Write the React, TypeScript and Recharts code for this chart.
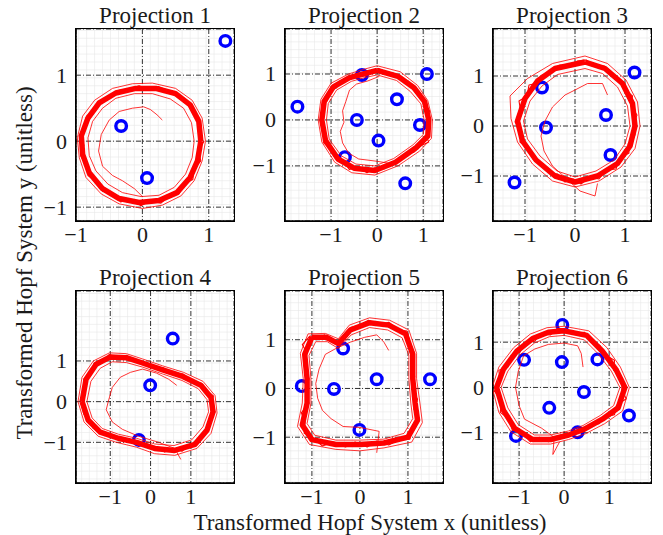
import React from 'react';
import { ComposedChart, Scatter, XAxis, YAxis, CartesianGrid } from 'recharts';

type Pt = { x: number; y: number };
const pts = (a: number[][]): Pt[] => a.map(([x, y]) => ({ x, y }));

const TITLES = ['Projection 1', 'Projection 2', 'Projection 3', 'Projection 4', 'Projection 5', 'Projection 6'];
const MAJOR_TICKS = [-1, 0, 1];
const X_LABEL = 'Transformed Hopf System x (unitless)';
const Y_LABEL = 'Transformed Hopf System y (unitless)';

// axis ranges per projection
const X_DOMAINS = [[-1.0, 1.38], [-2.0, 1.43], [-1.64, 1.52], [-1.85, 2.07], [-1.56, 1.73], [-1.58, 1.93]];
const Y_DOMAINS = [[-1.21, 1.7], [-2.2, 1.98], [-1.9, 1.94], [-2.0, 2.72], [-1.94, 2.0], [-2.11, 2.13]];
const FINE_STEPS = [0.12, 0.17, 0.16, 0.19, 0.16, 0.17];

// ---------- Projection 1 ----------
const P1_CIRCLES = [[1.25, 1.52], [-0.32, 0.23], [0.07, -0.56]];
const P1_LOOP = [[0.88, 0.0], [0.85, 0.3], [0.72, 0.55], [0.5, 0.72], [0.2, 0.8], [-0.1, 0.8], [-0.4, 0.73], [-0.65, 0.58], [-0.82, 0.35], [-0.92, 0.08], [-0.9, -0.2], [-0.8, -0.48], [-0.6, -0.72], [-0.35, -0.87], [-0.05, -0.93], [0.25, -0.9], [0.52, -0.78], [0.72, -0.55], [0.83, -0.3], [0.88, 0.0]];
const P1_OUTER = [[0.95, 0.0], [0.9, 0.35], [0.75, 0.62], [0.5, 0.8], [0.15, 0.88], [-0.15, 0.87], [-0.45, 0.8], [-0.72, 0.62], [-0.9, 0.38], [-0.98, 0.05], [-0.95, -0.25], [-0.85, -0.55], [-0.62, -0.8], [-0.35, -0.95], [0.0, -1.02], [0.3, -0.97], [0.58, -0.83], [0.78, -0.6], [0.9, -0.3], [0.95, 0.0]];
const P1_INNER = [[0.78, 0.0], [0.74, 0.28], [0.62, 0.5], [0.42, 0.64], [0.15, 0.72], [-0.12, 0.72], [-0.4, 0.65], [-0.6, 0.5], [-0.75, 0.3], [-0.82, 0.05], [-0.8, -0.22], [-0.7, -0.45], [-0.52, -0.65], [-0.3, -0.78], [-0.02, -0.84], [0.25, -0.82], [0.48, -0.7], [0.65, -0.5], [0.75, -0.25], [0.78, 0.0]];
const P1_NOISY = [[0.9, 0.05], [0.86, 0.2], [0.84, 0.35], [0.74, 0.5], [0.66, 0.6], [0.52, 0.7], [0.4, 0.76], [0.24, 0.83], [0.1, 0.78], [-0.05, 0.84], [-0.2, 0.79], [-0.35, 0.77], [-0.5, 0.66], [-0.62, 0.62], [-0.72, 0.48], [-0.84, 0.38], [-0.86, 0.22], [-0.95, 0.08], [-0.88, -0.06], [-0.93, -0.22], [-0.84, -0.38], [-0.82, -0.52], [-0.68, -0.62], [-0.6, -0.76], [-0.45, -0.8], [-0.33, -0.92], [-0.18, -0.88], [-0.02, -0.98], [0.12, -0.9], [0.28, -0.94], [0.42, -0.82], [0.55, -0.8], [0.64, -0.64], [0.76, -0.58], [0.78, -0.42], [0.88, -0.3], [0.84, -0.14], [0.93, 0.0]];
const P1_TRANS = [[0.3, 0.32], [0.22, 0.4], [0.12, 0.48], [0.02, 0.52], [-0.15, 0.5], [-0.35, 0.45], [-0.5, 0.32], [-0.62, 0.1], [-0.66, -0.15], [-0.6, -0.38], [-0.45, -0.52], [-0.3, -0.6], [-0.12, -0.72], [0.0, -0.84]];

// ---------- Projection 2 ----------
const P2_CIRCLES = [[-1.73, 0.29], [-0.33, 0.98], [1.08, 1.0], [0.43, 0.45], [-0.44, 0.0], [0.93, -0.11], [0.03, -0.45], [-0.7, -0.81], [0.61, -1.38]];
const P2_LOOP = [[0.0, 1.08], [0.45, 0.95], [0.8, 0.7], [1.03, 0.4], [1.12, 0.0], [1.1, -0.35], [0.85, -0.6], [0.4, -0.92], [-0.05, -1.1], [-0.5, -1.05], [-0.85, -0.85], [-1.12, -0.45], [-1.2, 0.0], [-1.15, 0.4], [-0.95, 0.72], [-0.6, 0.92], [-0.3, 1.0], [0.0, 1.08]];
const P2_OUTER = [[0.0, 1.18], [0.5, 1.05], [0.88, 0.75], [1.1, 0.42], [1.2, 0.0], [1.18, -0.4], [0.92, -0.68], [0.45, -1.0], [-0.05, -1.2], [-0.55, -1.15], [-0.92, -0.92], [-1.2, -0.48], [-1.28, 0.0], [-1.22, 0.45], [-1.0, 0.8], [-0.62, 1.0], [-0.3, 1.1], [0.0, 1.18]];
const P2_INNER = [[0.0, 0.98], [0.42, 0.86], [0.72, 0.62], [0.95, 0.35], [1.02, 0.0], [1.0, -0.32], [0.78, -0.54], [0.36, -0.84], [-0.05, -1.0], [-0.46, -0.96], [-0.78, -0.78], [-1.04, -0.42], [-1.1, 0.0], [-1.06, 0.36], [-0.88, 0.65], [-0.56, 0.84], [-0.28, 0.92], [0.0, 0.98]];
const P2_NOISY = [[0.02, 1.12], [0.2, 1.05], [0.35, 1.02], [0.52, 0.9], [0.68, 0.84], [0.8, 0.66], [0.96, 0.56], [1.02, 0.36], [1.14, 0.2], [1.08, 0.02], [1.16, -0.18], [1.06, -0.34], [1.12, -0.48], [0.92, -0.58], [0.8, -0.7], [0.62, -0.74], [0.48, -0.9], [0.3, -0.96], [0.16, -1.06], [-0.05, -1.04], [-0.22, -1.15], [-0.42, -1.02], [-0.6, -1.08], [-0.76, -0.86], [-0.92, -0.82], [-1.02, -0.62], [-1.16, -0.5], [-1.12, -0.28], [-1.22, -0.1], [-1.16, 0.1], [-1.2, 0.3], [-1.08, 0.42], [-1.04, 0.62], [-0.88, 0.7], [-0.8, 0.86], [-0.58, 0.88], [-0.45, 1.0], [-0.25, 0.96], [-0.12, 1.08], [0.02, 1.12]];
const P2_TRANS = [[0.05, 0.95], [-0.2, 0.85], [-0.45, 0.78], [-0.6, 0.65], [-0.68, 0.4], [-0.75, 0.2], [-0.72, -0.05], [-0.8, -0.25], [-0.75, -0.5], [-0.62, -0.72], [-0.4, -0.85], [0.0, -0.9], [0.3, -0.95]];

// ---------- Projection 3 ----------
const P3_CIRCLES = [[1.19, 1.07], [-0.66, 0.77], [-0.58, -0.03], [0.62, 0.22], [0.71, -0.58], [-1.21, -1.13]];
const P3_LOOP = [[0.2, 1.28], [0.6, 1.15], [0.95, 0.85], [1.15, 0.45], [1.2, 0.0], [1.1, -0.4], [0.85, -0.75], [0.45, -1.0], [0.0, -1.12], [-0.4, -1.0], [-0.78, -0.68], [-1.05, -0.3], [-1.15, 0.1], [-1.0, 0.55], [-0.75, 0.9], [-0.4, 1.15], [0.2, 1.28]];
const P3_OUTER = [[0.2, 1.4], [0.65, 1.25], [1.02, 0.92], [1.25, 0.48], [1.3, 0.0], [1.2, -0.45], [0.92, -0.82], [0.48, -1.1], [0.0, -1.22], [-0.45, -1.1], [-0.85, -0.76], [-1.15, -0.32], [-1.28, 0.15], [-1.3, 0.6], [-0.95, 0.95], [-0.45, 1.25], [0.2, 1.4]];
const P3_INNER = [[0.2, 1.15], [0.55, 1.05], [0.85, 0.78], [1.05, 0.4], [1.1, 0.0], [1.0, -0.36], [0.78, -0.68], [0.42, -0.9], [0.0, -1.02], [-0.36, -0.9], [-0.7, -0.6], [-0.95, -0.26], [-1.03, 0.1], [-0.9, 0.5], [-0.66, 0.8], [-0.35, 1.03], [0.2, 1.15]];
const P3_NOISY = [[0.22, 1.32], [0.4, 1.2], [0.58, 1.2], [0.75, 1.02], [0.92, 0.92], [1.0, 0.72], [1.15, 0.6], [1.12, 0.4], [1.24, 0.22], [1.16, 0.02], [1.2, -0.18], [1.06, -0.36], [1.08, -0.54], [0.88, -0.66], [0.82, -0.86], [0.62, -0.88], [0.48, -1.06], [0.3, -1.02], [0.12, -1.16], [-0.04, -1.06], [-0.2, -1.12], [-0.35, -0.96], [-0.52, -0.94], [-0.66, -0.76], [-0.84, -0.66], [-0.92, -0.46], [-1.1, -0.32], [-1.06, -0.12], [-1.2, 0.08], [-1.08, 0.26], [-1.12, 0.5], [-0.96, 0.6], [-0.92, 0.82], [-0.74, 0.86], [-0.66, 1.02], [-0.46, 1.08], [-0.3, 1.22], [-0.1, 1.2], [0.05, 1.3], [0.22, 1.32]];
const P3_TRANS = [[0.65, 0.62], [0.55, 0.85], [0.25, 0.85], [0.0, 0.72], [-0.2, 0.62], [-0.45, 0.38], [-0.6, 0.1], [-0.68, -0.2], [-0.62, -0.5], [-0.45, -0.8], [0.1, -1.3], [0.4, -1.4], [0.45, -1.15]];

// ---------- Projection 4 ----------
const P4_CIRCLES = [[0.55, 1.55], [-0.01, 0.4], [-0.29, -0.94]];
const P4_LOOP = [[-1.7, 0.0], [-1.6, 0.55], [-1.35, 0.92], [-1.0, 1.1], [-0.6, 1.08], [-0.2, 0.95], [0.3, 0.78], [0.8, 0.62], [1.25, 0.4], [1.5, 0.1], [1.55, -0.25], [1.4, -0.7], [1.1, -1.05], [0.6, -1.2], [0.1, -1.15], [-0.35, -1.0], [-0.8, -0.9], [-1.25, -0.75], [-1.55, -0.45], [-1.7, 0.0]];
const P4_OUTER = [[-1.8, 0.0], [-1.7, 0.6], [-1.42, 1.0], [-1.02, 1.2], [-0.6, 1.18], [-0.2, 1.05], [0.3, 0.88], [0.82, 0.72], [1.3, 0.5], [1.6, 0.15], [1.65, -0.28], [1.5, -0.78], [1.15, -1.15], [0.6, -1.32], [0.1, -1.28], [-0.35, -1.12], [-0.85, -1.0], [-1.3, -0.85], [-1.65, -0.5], [-1.8, 0.0]];
const P4_INNER = [[-1.58, 0.0], [-1.48, 0.5], [-1.25, 0.82], [-0.95, 0.98], [-0.6, 0.96], [-0.2, 0.85], [0.3, 0.68], [0.78, 0.52], [1.18, 0.32], [1.4, 0.05], [1.44, -0.25], [1.3, -0.62], [1.02, -0.94], [0.58, -1.08], [0.1, -1.04], [-0.35, -0.9], [-0.8, -0.8], [-1.2, -0.66], [-1.45, -0.4], [-1.58, 0.0]];
const P4_NOISY = [[-1.74, 0.05], [-1.62, 0.3], [-1.66, 0.55], [-1.46, 0.72], [-1.4, 0.95], [-1.18, 1.0], [-1.02, 1.16], [-0.8, 1.06], [-0.6, 1.14], [-0.4, 0.98], [-0.2, 1.0], [0.05, 0.84], [0.3, 0.84], [0.55, 0.68], [0.8, 0.68], [1.0, 0.52], [1.25, 0.46], [1.38, 0.28], [1.56, 0.14], [1.5, -0.05], [1.6, -0.25], [1.46, -0.42], [1.46, -0.68], [1.28, -0.8], [1.16, -1.02], [0.95, -1.08], [0.78, -1.22], [0.55, -1.14], [0.35, -1.24], [0.12, -1.1], [-0.1, -1.12], [-0.35, -0.96], [-0.55, -1.0], [-0.8, -0.86], [-1.0, -0.88], [-1.25, -0.7], [-1.42, -0.66], [-1.56, -0.42], [-1.66, -0.3], [-1.74, 0.05]];
const P4_TRANS = [[0.65, 0.4], [0.45, 0.55], [0.15, 0.7], [-0.2, 0.8], [-0.5, 0.72], [-0.75, 0.6], [-0.95, 0.35], [-1.05, 0.0], [-1.1, -0.2], [-0.95, -0.5], [-0.7, -0.68], [-0.3, -0.85], [0.2, -1.0], [0.6, -1.15], [0.75, -1.42]];

// ---------- Projection 5 ----------
const P5_CIRCLES = [[-1.21, 0.05], [-0.54, -0.01], [-0.35, 0.82], [0.35, 0.19], [1.46, 0.19], [-0.01, -0.85]];
const P5_LOOP = [[-1.0, 1.05], [-0.7, 1.05], [-0.45, 0.92], [-0.2, 1.2], [0.2, 1.35], [0.6, 1.3], [0.95, 1.12], [1.1, 0.7], [1.1, 0.2], [1.15, -0.3], [1.2, -0.65], [1.0, -1.0], [0.5, -1.12], [0.0, -1.15], [-0.5, -1.15], [-1.0, -1.05], [-1.2, -0.75], [-1.1, -0.3], [-1.1, 0.2], [-1.15, 0.7], [-1.0, 1.05]];
const P5_OUTER = [[-1.08, 1.12], [-0.72, 1.13], [-0.45, 1.02], [-0.22, 1.3], [0.2, 1.45], [0.62, 1.4], [1.02, 1.2], [1.18, 0.72], [1.18, 0.2], [1.25, -0.3], [1.3, -0.7], [1.08, -1.1], [0.5, -1.22], [0.0, -1.28], [-0.5, -1.25], [-1.05, -1.15], [-1.3, -0.78], [-1.2, -0.3], [-1.18, 0.2], [-1.24, 0.72], [-1.08, 1.12]];
const P5_INNER = [[-0.92, 0.96], [-0.68, 0.96], [-0.45, 0.82], [-0.18, 1.1], [0.2, 1.25], [0.58, 1.2], [0.88, 1.04], [1.02, 0.68], [1.02, 0.2], [1.06, -0.3], [1.1, -0.62], [0.92, -0.92], [0.5, -1.04], [0.0, -1.06], [-0.5, -1.06], [-0.94, -0.96], [-1.1, -0.72], [-1.02, -0.3], [-1.02, 0.2], [-1.06, 0.68], [-0.92, 0.96]];
const P5_NOISY = [[-1.04, 1.08], [-0.9, 1.0], [-0.74, 1.1], [-0.58, 0.98], [-0.45, 0.96], [-0.32, 1.1], [-0.2, 1.25], [0.0, 1.3], [0.18, 1.4], [0.4, 1.3], [0.6, 1.36], [0.8, 1.2], [0.98, 1.18], [1.04, 0.95], [1.14, 0.72], [1.06, 0.5], [1.14, 0.25], [1.08, 0.0], [1.2, -0.22], [1.12, -0.42], [1.24, -0.62], [1.1, -0.8], [1.04, -1.04], [0.8, -1.06], [0.6, -1.16], [0.35, -1.08], [0.15, -1.2], [-0.1, -1.1], [-0.3, -1.2], [-0.55, -1.1], [-0.78, -1.18], [-1.0, -1.0], [-1.16, -0.92], [-1.14, -0.68], [-1.22, -0.5], [-1.06, -0.3], [-1.14, -0.05], [-1.06, 0.2], [-1.16, 0.45], [-1.1, 0.72], [-1.2, 0.9], [-1.04, 1.08]];
const P5_TRANS = [[0.6, 0.78], [0.5, 0.95], [0.35, 1.1], [0.1, 1.05], [-0.2, 0.95], [-0.5, 0.82], [-0.72, 0.7], [-0.85, 0.4], [-0.92, 0.1], [-0.88, -0.2], [-0.78, -0.45], [-0.6, -0.62], [-0.35, -0.78], [0.0, -0.8], [0.4, -0.88], [0.35, -1.32]];

// ---------- Projection 6 ----------
const P6_CIRCLES = [[-0.04, 1.38], [-0.89, 0.61], [-0.05, 0.56], [0.74, 0.62], [0.44, -0.1], [-0.33, -0.45], [1.44, -0.62], [-1.07, -1.07], [0.3, -0.99]];
const P6_LOOP = [[0.0, 1.25], [0.5, 1.15], [0.85, 0.8], [1.15, 0.4], [1.35, 0.0], [1.2, -0.45], [0.85, -0.7], [0.45, -0.92], [0.1, -1.05], [-0.3, -1.15], [-0.7, -1.15], [-1.1, -0.9], [-1.35, -0.5], [-1.5, 0.0], [-1.35, 0.4], [-1.05, 0.8], [-0.7, 1.08], [-0.35, 1.22], [0.0, 1.25]];
const P6_OUTER = [[0.0, 1.35], [0.55, 1.25], [0.95, 0.88], [1.25, 0.45], [1.45, 0.0], [1.3, -0.52], [0.9, -0.8], [0.48, -1.02], [0.1, -1.15], [-0.3, -1.25], [-0.75, -1.25], [-1.18, -0.98], [-1.45, -0.55], [-1.6, 0.0], [-1.45, 0.45], [-1.12, 0.88], [-0.75, 1.18], [-0.38, 1.32], [0.0, 1.35]];
const P6_INNER = [[0.0, 1.15], [0.45, 1.05], [0.76, 0.74], [1.05, 0.36], [1.24, 0.0], [1.1, -0.4], [0.8, -0.62], [0.42, -0.84], [0.1, -0.96], [-0.3, -1.05], [-0.66, -1.05], [-1.02, -0.82], [-1.25, -0.45], [-1.4, 0.0], [-1.25, 0.36], [-0.98, 0.72], [-0.66, 0.98], [-0.33, 1.12], [0.0, 1.15]];
const P6_NOISY = [[0.02, 1.3], [0.22, 1.2], [0.45, 1.22], [0.6, 1.05], [0.8, 0.92], [0.9, 0.72], [1.12, 0.6], [1.1, 0.38], [1.3, 0.2], [1.28, -0.05], [1.38, -0.25], [1.16, -0.4], [1.12, -0.6], [0.9, -0.66], [0.78, -0.8], [0.55, -0.84], [0.42, -0.98], [0.2, -0.98], [0.05, -1.1], [-0.15, -1.08], [-0.35, -1.2], [-0.55, -1.1], [-0.75, -1.2], [-0.95, -0.98], [-1.15, -0.95], [-1.22, -0.7], [-1.42, -0.55], [-1.38, -0.3], [-1.55, -0.08], [-1.42, 0.12], [-1.45, 0.38], [-1.25, 0.45], [-1.18, 0.7], [-0.98, 0.78], [-0.88, 0.98], [-0.65, 1.02], [-0.55, 1.18], [-0.3, 1.16], [-0.15, 1.3], [0.02, 1.3]];
const P6_TRANS = [[0.42, 0.45], [0.38, 0.75], [0.3, 0.92], [0.0, 0.98], [-0.35, 0.95], [-0.65, 0.85], [-0.9, 0.7], [-1.02, 0.35], [-1.08, 0.0], [-1.0, -0.4], [-0.88, -0.7], [-0.5, -0.9], [-0.22, -1.1], [-0.25, -1.48], [-0.1, -1.2]];

const CIRCLES = [P1_CIRCLES, P2_CIRCLES, P3_CIRCLES, P4_CIRCLES, P5_CIRCLES, P6_CIRCLES];
const LOOPS = [P1_LOOP, P2_LOOP, P3_LOOP, P4_LOOP, P5_LOOP, P6_LOOP];
const OUTERS = [P1_OUTER, P2_OUTER, P3_OUTER, P4_OUTER, P5_OUTER, P6_OUTER];
const INNERS = [P1_INNER, P2_INNER, P3_INNER, P4_INNER, P5_INNER, P6_INNER];
const NOISY = [P1_NOISY, P2_NOISY, P3_NOISY, P4_NOISY, P5_NOISY, P6_NOISY];
const TRANS = [P1_TRANS, P2_TRANS, P3_TRANS, P4_TRANS, P5_TRANS, P6_TRANS];

// layout
const BOX_W = 158;
const BOX_H = 192;
const COL_LEFT = [76, 285, 493];
const ROW_TOP = [29, 291];
const YW = 40;
const MT = 4;
const MR = 4;
const XH = 34;
const FONT = '"Liberation Serif", "DejaVu Serif", serif';
const TEXT = '#1a1a1a';
const RED = '#ff0000';
const BLUE = '#0000ff';
const TICK_FS = 22;

const fineTicks = (lo: number, hi: number, step: number) => {
  const out: number[] = [];
  const start = Math.ceil(lo / step) * step;
  for (let v = start; v <= hi + 1e-9; v += step) out.push(Number(v.toFixed(4)));
  return out;
};

const fmt = (v: number) => (v < 0 ? '\u2212' + Math.abs(v) : String(v));

const XTick = (props: any) => (
  <text x={props.x} y={props.y} dy="0.71em" textAnchor="middle" fontFamily={FONT} fontSize={TICK_FS} fill={TEXT}>
    {fmt(props.payload.value)}
  </text>
);
const YTick = (props: any) => (
  <text x={props.x} y={props.y} dy="0.34em" textAnchor="end" fontFamily={FONT} fontSize={TICK_FS} fill={TEXT}>
    {fmt(props.payload.value)}
  </text>
);

const NoShape = () => <g />;
const Ring = (props: any) => {
  const { cx, cy } = props;
  if (cx == null || cy == null) return <g />;
  return <circle cx={cx} cy={cy} r={5.3} fill="none" stroke={BLUE} strokeWidth={3.4} />;
};

function Panel({ i }: { i: number }) {
  const xd = X_DOMAINS[i] as [number, number];
  const yd = Y_DOMAINS[i] as [number, number];
  const left = COL_LEFT[i % 3];
  const top = ROW_TOP[Math.floor(i / 3)];
  const fx = fineTicks(xd[0], xd[1], FINE_STEPS[i]);
  const fy = fineTicks(yd[0], yd[1], FINE_STEPS[i]);
  const thin = { stroke: RED, strokeWidth: 0.8, strokeLinejoin: 'round' as const };
  return (
    <div style={{ position: 'absolute', left: left - YW, top: top - MT, fontFamily: FONT }}>
      <ComposedChart
        width={YW + BOX_W + MR}
        height={MT + BOX_H + XH}
        margin={{ top: MT, right: MR, left: 0, bottom: 0 }}
      >
        <XAxis xAxisId="f" type="number" dataKey="x" domain={xd} ticks={fx} hide allowDataOverflow interval={0} />
        <YAxis yAxisId="f" type="number" dataKey="y" domain={yd} ticks={fy} hide allowDataOverflow interval={0} />
        <CartesianGrid xAxisId="f" yAxisId="f" stroke="#e8e8e8" strokeWidth={0.6} />
        <CartesianGrid stroke="#000" strokeDasharray="5 2 1 2" strokeWidth={0.8} />
        <XAxis
          type="number"
          dataKey="x"
          domain={xd}
          ticks={MAJOR_TICKS}
          allowDataOverflow
          interval={0}
          height={XH}
          tickLine={false}
          tickSize={5}
          tickMargin={0}
          tick={XTick}
          axisLine={{ stroke: '#000', strokeWidth: 1.5 }}
        />
        <YAxis
          type="number"
          dataKey="y"
          domain={yd}
          ticks={MAJOR_TICKS}
          allowDataOverflow
          interval={0}
          width={YW}
          tickLine={false}
          tickSize={6}
          tickMargin={3}
          tick={YTick}
          axisLine={{ stroke: '#000', strokeWidth: 1.5 }}
        />
        <Scatter data={pts(CIRCLES[i])} shape={Ring} isAnimationActive={false} />
        <Scatter data={pts(LOOPS[i])} line={{ stroke: RED, strokeWidth: 5.5, strokeLinejoin: 'round' }} shape={NoShape} isAnimationActive={false} />
        <Scatter data={pts(NOISY[i])} line={{ stroke: RED, strokeWidth: 1.1, strokeLinejoin: 'round' }} shape={NoShape} isAnimationActive={false} />
        <Scatter data={pts(OUTERS[i])} line={thin} shape={NoShape} isAnimationActive={false} />
        <Scatter data={pts(INNERS[i])} line={thin} shape={NoShape} isAnimationActive={false} />
        <Scatter data={pts(TRANS[i])} line={thin} shape={NoShape} isAnimationActive={false} />
      </ComposedChart>
      <div
        style={{
          position: 'absolute',
          left: YW - 0.75,
          top: MT - 0.75,
          width: BOX_W + 1.5,
          height: BOX_H + 1.5,
          border: '1.5px solid #000',
          boxSizing: 'border-box',
          pointerEvents: 'none',
        }}
      />
    </div>
  );
}

export default function App() {
  return (
    <div style={{ position: 'absolute', left: 0, top: 0, width: 663, height: 535, background: '#fff', overflow: 'hidden' }}>
      {TITLES.map((_, i) => (
        <Panel key={i} i={i} />
      ))}
      <svg width={663} height={535} style={{ position: 'absolute', left: 0, top: 0, pointerEvents: 'none' }}>
        {TITLES.map((t, i) => (
          <text
            key={t}
            x={COL_LEFT[i % 3] + BOX_W / 2}
            y={ROW_TOP[Math.floor(i / 3)] - 6}
            textAnchor="middle"
            fontFamily={FONT}
            fontSize={23}
            fill={TEXT}
          >
            {t}
          </text>
        ))}
        <text x={370} y={530} textAnchor="middle" fontFamily={FONT} fontSize={23} fill={TEXT}>
          {X_LABEL}
        </text>
        <text x={32} y={263} textAnchor="middle" fontFamily={FONT} fontSize={23} fill={TEXT} transform="rotate(-90, 32, 263)">
          {Y_LABEL}
        </text>
      </svg>
    </div>
  );
}
